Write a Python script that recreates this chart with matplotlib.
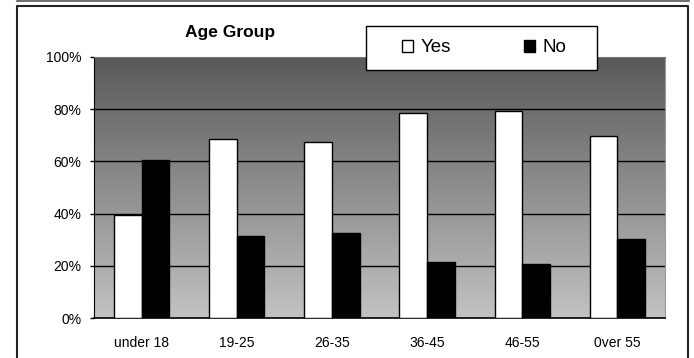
import numpy as np
import matplotlib
matplotlib.use("Agg")
import matplotlib.pyplot as plt
from matplotlib.lines import Line2D
from matplotlib.patches import Rectangle
from matplotlib.colors import LinearSegmentedColormap

plt.rcParams['font.family'] = ['Liberation Sans', 'DejaVu Sans']

# data
groups = ['under 18', '19-25', '26-35', '36-45', '46-55', '0ver 55']
yes_pct = [39.5, 68.7, 67.3, 78.5, 79.4, 69.7]
no_pct = [60.5, 31.3, 32.7, 21.5, 20.6, 30.3]
y_ticks = [0, 20, 40, 60, 80, 100]

W, H = 694, 358
fig = plt.figure(figsize=(W / 100, H / 100), dpi=100)
fig.patch.set_facecolor('white')

# outer frame lines
fig.add_artist(Line2D([17 / W, 689 / W], [1 - 0.5 / H, 1 - 0.5 / H], color='#555555', lw=1.2))
fig.add_artist(Line2D([17 / W, 17 / W, 688 / W, 688 / W], [-0.1, 1 - 6 / H, 1 - 6 / H, -0.1],
                      color='#222222', lw=1.5))

ax = fig.add_axes([94 / W, 40 / H, 571 / W, 261 / H])

# gradient plot background
grad = np.linspace(0, 1, 256).reshape(-1, 1)
cmap = LinearSegmentedColormap.from_list('bg', ['#c2c2c2', '#595959'])
ax.imshow(grad, extent=[-0.5, len(groups) - 0.5, 0, 100], origin='lower',
          aspect='auto', cmap=cmap, zorder=0)

x = np.arange(len(groups))
bw = 0.29
b1 = ax.bar(x - bw / 2, yes_pct, bw, color='white', edgecolor='black', lw=1, zorder=3, label='Yes')
b2 = ax.bar(x + bw / 2, no_pct, bw, color='black', edgecolor='black', lw=1, zorder=3, label='No')

ax.set_xlim(-0.5, len(groups) - 0.5)
ax.set_ylim(0, 100)
ax.set_yticks(y_ticks)
ax.set_yticklabels([f'{v}%' for v in y_ticks], fontsize=10)
ax.set_xticks(x)
ax.set_xticklabels(groups, fontsize=10)
ax.tick_params(axis='x', length=0, pad=13)
ax.tick_params(axis='y', length=3, width=1, pad=6)
for v in y_ticks[1:-1]:
    ax.axhline(v, color='black', lw=1, zorder=1)

ax.spines['left'].set_color('black')
ax.spines['bottom'].set_color('black')
ax.spines['bottom'].set_linewidth(1.2)
ax.spines['top'].set_color('#777777')
ax.spines['right'].set_color('#999999')

fig.text(230 / W, 1 - 33 / H, 'Age Group', fontsize=12.5, fontweight='bold',
         ha='center', va='center')

# legend box drawn separately so its proportions match
fig.add_artist(Rectangle((366 / W, 1 - 70 / H), 231 / W, 44 / H, transform=fig.transFigure,
                         facecolor='white', edgecolor='black', lw=1, zorder=9))
leg = fig.legend(handles=[b1, b2], ncol=2, loc='center',
                 bbox_to_anchor=(484 / W, 1 - 48 / H), bbox_transform=fig.transFigure,
                 fontsize=13.5, frameon=False, handlelength=0.6, handleheight=0.6,
                 handletextpad=0.4, columnspacing=3.9, borderpad=0)
leg.set_zorder(10)

fig.savefig('out.png', dpi=100)
